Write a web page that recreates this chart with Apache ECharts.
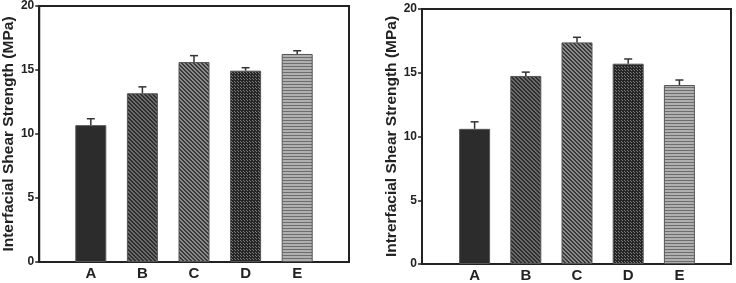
<!DOCTYPE html>
<html>
<head>
<meta charset="utf-8">
<script src="https://cdn.jsdelivr.net/npm/echarts@6/dist/echarts.min.js"></script>
<style>
  html, body { margin: 0; padding: 0; background: #fff; }
  #chart { width: 736px; height: 283px; }
</style>
</head>
<body>
<div id="chart"></div>
<script>
// Data
const categories = ['A', 'B', 'C', 'D', 'E'];
const leftValues = [10.65, 13.13, 15.56, 14.89, 16.19];
const leftErrors = [0.5, 0.5, 0.5, 0.23, 0.25];
const rightValues = [10.6, 14.75, 17.38, 15.71, 14.04];
const rightErrors = [0.55, 0.3, 0.4, 0.37, 0.39];
const yTicks = [0, 5, 10, 15, 20];

const FONT = 'Liberation Sans, Arial, sans-serif';
const INK = '#222';

// Small canvas fill patterns for the bars
function makePattern(kind) {
  const c = document.createElement('canvas');
  const ctx = c.getContext('2d');
  if (kind === 'solid') {
    c.width = c.height = 4;
    ctx.fillStyle = '#2c2c2c';
    ctx.fillRect(0, 0, 4, 4);
  } else if (kind === 'diagDark' || kind === 'diagLight') {
    c.width = c.height = 4;
    ctx.fillStyle = kind === 'diagDark' ? '#2e2e2e' : '#3a3a3a';
    ctx.fillRect(0, 0, 4, 4);
    ctx.fillStyle = kind === 'diagDark' ? '#6a6a6a' : '#8a8a8a';
    for (let i = 0; i < 4; i++) {
      ctx.fillRect(i, i, 1, 1);
      ctx.fillRect((i + 1) % 4, i, 1, 1);
    }
  } else if (kind === 'dots') {
    c.width = c.height = 3;
    ctx.fillStyle = '#262626';
    ctx.fillRect(0, 0, 3, 3);
    ctx.fillStyle = '#7a7a7a';
    ctx.fillRect(0, 0, 1, 1);
    ctx.fillRect(1, 1, 1, 1);
  } else if (kind === 'hlines') {
    c.width = 4; c.height = 3;
    ctx.fillStyle = '#b0b0b0';
    ctx.fillRect(0, 0, 4, 3);
    ctx.fillStyle = '#6e6e6e';
    ctx.fillRect(0, 0, 4, 1);
  }
  return { image: c, repeat: 'repeat' };
}

const fills = ['solid', 'diagDark', 'diagLight', 'dots', 'hlines'].map(makePattern);

function barData(values) {
  return values.map((v, i) => ({
    value: v,
    itemStyle: { color: fills[i] }
  }));
}

function errorSeries(values, errors, xIdx, yIdx) {
  return {
    type: 'custom',
    xAxisIndex: xIdx,
    yAxisIndex: yIdx,
    silent: true,
    z: 5,
    data: values.map((v, i) => [i, v, v + errors[i]]),
    renderItem: function (params, api) {
      const base = api.coord([api.value(0), api.value(1)]);
      const top = api.coord([api.value(0), api.value(2)]);
      const half = 4;
      const style = { stroke: '#333', lineWidth: 1.5 };
      return {
        type: 'group',
        children: [
          { type: 'line', shape: { x1: base[0], y1: base[1], x2: top[0], y2: top[1] }, style: style },
          { type: 'line', shape: { x1: top[0] - half, y1: top[1], x2: top[0] + half, y2: top[1] }, style: style }
        ]
      };
    }
  };
}

function frameYAxis(gridIndex, name) {
  return {
    type: 'value',
    gridIndex: gridIndex,
    min: 0,
    max: 20,
    interval: 5,
    name: name,
    nameLocation: 'middle',
    nameGap: 22,
    nameTextStyle: { fontFamily: FONT, fontWeight: 'bold', fontSize: 15.5, color: INK },
    axisLine: { show: true, lineStyle: { color: INK, width: 2 } },
    axisTick: { show: true, inside: false, length: 4, lineStyle: { color: INK, width: 1.5 } },
    axisLabel: {
      fontFamily: FONT, fontWeight: 'bold', fontSize: 12, color: INK, margin: 5,
      formatter: v => yTicks.includes(v) ? String(v) : ''
    },
    splitLine: { show: false }
  };
}

function hiddenYAxis(gridIndex) {
  return { type: 'value', gridIndex: gridIndex, min: 0, max: 20, show: false };
}

function barXAxis(gridIndex) {
  return {
    type: 'category',
    gridIndex: gridIndex,
    data: categories,
    axisLine: { show: false },
    axisTick: { show: false },
    axisLabel: { fontFamily: FONT, fontWeight: 'bold', fontSize: 15, color: INK, margin: 4 }
  };
}

const chart = echarts.init(document.getElementById('chart'));

const option = {
  backgroundColor: '#fff',
  animation: false,
  grid: [
    // left panel frame and bar area
    { left: 38, right: 387, top: 5, bottom: 21, show: true, borderColor: INK, borderWidth: 2, backgroundColor: 'transparent' },
    { left: 65, right: 413, top: 5, bottom: 21 },
    // right panel frame and bar area
    { left: 422, right: 5, top: 9, bottom: 19, show: true, borderColor: INK, borderWidth: 2, backgroundColor: 'transparent' },
    { left: 449, right: 31, top: 9, bottom: 19 }
  ],
  xAxis: [
    { type: 'value', gridIndex: 0, show: false, min: 0, max: 1 },
    barXAxis(1),
    { type: 'value', gridIndex: 2, show: false, min: 0, max: 1 },
    barXAxis(3)
  ],
  yAxis: [
    frameYAxis(0, 'Interfacial Shear Strength (MPa)'),
    hiddenYAxis(1),
    frameYAxis(2, 'Intrerfacial Shear Strength (MPa)'),
    hiddenYAxis(3)
  ],
  series: [
    {
      type: 'bar',
      xAxisIndex: 1,
      yAxisIndex: 1,
      barWidth: 31,
      data: barData(leftValues),
      itemStyle: { borderColor: '#555', borderWidth: 1 }
    },
    errorSeries(leftValues, leftErrors, 1, 1),
    {
      type: 'bar',
      xAxisIndex: 3,
      yAxisIndex: 3,
      barWidth: 31,
      data: barData(rightValues),
      itemStyle: { borderColor: '#555', borderWidth: 1 }
    },
    errorSeries(rightValues, rightErrors, 3, 3)
  ]
};

chart.setOption(option);
</script>
</body>
</html>
